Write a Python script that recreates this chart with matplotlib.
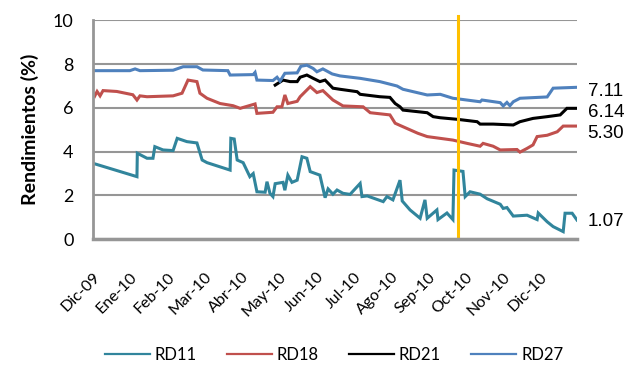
import numpy as np
import matplotlib.pyplot as plt

# --- Datos (x en meses desde Dic-09, y en %) ---
meses = ['Dic-09', 'Ene-10', 'Feb-10', 'Mar-10', 'Abr-10', 'May-10', 'Jun-10',
         'Jul-10', 'Ago-10', 'Sep-10', 'Oct-10', 'Nov-10', 'Dic-10']

rd27_x = [0, 0.99, 1.13, 1.26, 2.15, 2.42, 2.79, 2.95, 3.62, 3.68, 4.30, 4.35,
          4.40, 4.83, 4.94, 5.02, 5.15, 5.48, 5.58, 5.74, 5.91, 6.01, 6.17, 6.42,
          6.63, 7.17, 7.70, 8.16, 8.32, 8.97, 9.32, 9.66, 9.85, 10.39, 10.44,
          10.93, 11.01, 11.11, 11.19, 11.28, 11.46, 12.19, 12.35, 12.99]
rd27_y = [7.70, 7.70, 7.78, 7.70, 7.72, 7.88, 7.88, 7.73, 7.70, 7.50, 7.52, 7.62,
          7.27, 7.25, 7.40, 7.22, 7.58, 7.60, 7.90, 7.95, 7.80, 7.65, 7.78, 7.55,
          7.46, 7.35, 7.20, 7.00, 6.85, 6.59, 6.62, 6.44, 6.40, 6.28, 6.36,
          6.24, 6.09, 6.25, 6.10, 6.28, 6.44, 6.50, 6.90, 6.94]

rd21_x = [4.89, 5.10, 5.29, 5.48, 5.56, 5.74, 5.91, 6.09, 6.23, 6.44, 6.63, 7.09,
          7.17, 7.70, 7.97, 8.11, 8.24, 8.32, 8.59, 8.97, 9.13, 9.32, 9.77, 10.31,
          10.39, 10.74, 11.28, 11.46, 11.81, 12.19, 12.54, 12.72, 12.99]
rd21_y = [7.04, 7.27, 7.20, 7.20, 7.40, 7.50, 7.35, 7.20, 7.27, 6.90, 6.85, 6.74,
          6.62, 6.51, 6.48, 6.20, 6.05, 5.90, 5.85, 5.78, 5.60, 5.55, 5.48, 5.37,
          5.26, 5.26, 5.22, 5.37, 5.52, 5.60, 5.68, 5.98, 5.98]

rd18_x = [0, 0.05, 0.11, 0.19, 0.27, 0.64, 1.07, 1.18, 1.26, 1.45, 2.15, 2.39,
          2.55, 2.79, 2.87, 3.06, 3.41, 3.76, 3.95, 4.35, 4.40, 4.83, 4.94, 5.07,
          5.15, 5.23, 5.48, 5.56, 5.83, 6.01, 6.17, 6.44, 6.71, 7.25, 7.44, 7.97,
          8.11, 8.24, 8.72, 8.97, 9.66, 10.04, 10.39, 10.47, 10.74, 10.93, 11.38,
          11.46, 11.65, 11.81, 11.92, 12.19, 12.46, 12.62, 12.99]
rd18_y = [6.67, 6.55, 6.75, 6.55, 6.79, 6.75, 6.60, 6.36, 6.55, 6.51, 6.55, 6.67,
          7.27, 7.20, 6.67, 6.44, 6.20, 6.10, 5.98, 6.18, 5.75, 5.80, 6.05, 6.05,
          6.59, 6.20, 6.30, 6.51, 6.97, 6.70, 6.79, 6.36, 6.09, 6.05, 5.78, 5.68,
          5.30, 5.20, 4.84, 4.69, 4.53, 4.38, 4.25, 4.38, 4.25, 4.08, 4.10,
          3.98, 4.15, 4.31, 4.69, 4.75, 4.91, 5.17, 5.17]

rd11_x = [0, 1.18, 1.19, 1.45, 1.61, 1.66, 1.88, 2.15, 2.26, 2.52, 2.79, 2.93,
          3.06, 3.68, 3.70, 3.79, 3.87, 4.03, 4.21, 4.30, 4.40, 4.62, 4.67, 4.75,
          4.83, 4.89, 5.10, 5.15, 5.23, 5.34, 5.48, 5.61, 5.74, 5.83, 6.09, 6.23,
          6.31, 6.44, 6.55, 6.71, 6.90, 6.98, 7.17, 7.22, 7.36, 7.79, 7.89, 8.05,
          8.24, 8.30, 8.51, 8.78, 8.91, 8.97, 9.23, 9.26, 9.50, 9.66, 9.69, 9.93,
          9.99, 10.12, 10.39, 10.58, 10.93, 11.01, 11.11, 11.28, 11.65, 11.92,
          11.95, 12.19, 12.35, 12.62, 12.67, 12.86, 12.99]
rd11_y = [3.47, 2.86, 3.93, 3.70, 3.70, 4.23, 4.08, 4.05, 4.61, 4.46, 4.40, 3.62,
          3.50, 3.16, 4.61, 4.58, 3.62, 3.50, 2.86, 3.00, 2.17, 2.15, 2.63, 2.10,
          1.95, 2.54, 2.60, 2.24, 2.93, 2.60, 2.70, 3.77, 3.70, 3.09, 2.93, 1.90,
          2.30, 2.06, 2.25, 2.10, 2.05, 2.20, 2.55, 1.95, 1.98, 1.72, 1.95, 1.80,
          2.70, 1.75, 1.34, 0.96, 1.80, 0.96, 1.34, 0.90, 1.20, 0.90, 3.16, 3.10,
          1.95, 2.17, 2.06, 1.85, 1.60, 1.41, 1.45, 1.06, 1.10, 0.90,
          1.20, 0.80, 0.58, 0.35, 1.19, 1.19, 0.88]

ultimos = ['7.11', '6.14', '5.30', '1.07']
ultimos_y = [6.77, 5.81, 4.85, 0.79]
fecha_corte = 9.81

# --- Grafica ---
plt.rcParams['font.family'] = ['Lato', 'DejaVu Sans']
fig = plt.figure(figsize=(6.36, 3.65), dpi=100)
ax = fig.add_axes([0.1462, 0.3444, 0.761, 0.6])

gris = '#969696'
ax.plot(rd11_x, rd11_y, color='#31859C', lw=2.2, label='RD11', solid_joinstyle='miter')
ax.plot(rd18_x, rd18_y, color='#C0504D', lw=2.2, label='RD18', solid_joinstyle='miter')
ax.plot(rd21_x, rd21_y, color='black', lw=2.2, label='RD21', solid_joinstyle='miter')
ax.plot(rd27_x, rd27_y, color='#4F81BD', lw=2.2, label='RD27', solid_joinstyle='miter')
ax.plot([fecha_corte, fecha_corte], [0.15, 10.2], color='#FFC000', lw=2.2, clip_on=False)

ax.set_xlim(0, 12.99)
ax.set_ylim(0, 10)
ax.set_yticks(np.arange(0, 11, 2))
ax.set_yticklabels([str(v) for v in range(0, 11, 2)], fontsize=13)
ax.set_xticks(np.arange(len(meses)))
ax.set_xticklabels(meses, rotation=45, ha='right', va='top',
                   rotation_mode='anchor', fontsize=11.5)
ax.tick_params(axis='x', length=0, pad=22)
ax.tick_params(axis='y', length=0, pad=14)
ax.grid(axis='y', color=gris, lw=1.5)
ax.set_axisbelow(True)
for s in ['top', 'right']:
    ax.spines[s].set_visible(False)
ax.spines['left'].set_color(gris)
ax.spines['left'].set_linewidth(2)
ax.spines['bottom'].set_color(gris)
ax.spines['bottom'].set_linewidth(2.5)

ax.set_ylabel('Rendimientos (%)', fontsize=14, fontweight='bold', labelpad=10)

for txt, yv in zip(ultimos, ultimos_y):
    ax.text(1.022, yv, txt, transform=ax.get_yaxis_transform(),
            fontsize=13.5, family='Liberation Sans', va='center', ha='left')

leg = fig.legend(loc='center', bbox_to_anchor=(0.525, 0.027), ncol=4, frameon=False,
                 fontsize=12, handlelength=2.7, handletextpad=0.3, columnspacing=1.8)
for h in leg.get_lines():
    h.set_linewidth(1.6)

fig.savefig('out.png', dpi=100)
